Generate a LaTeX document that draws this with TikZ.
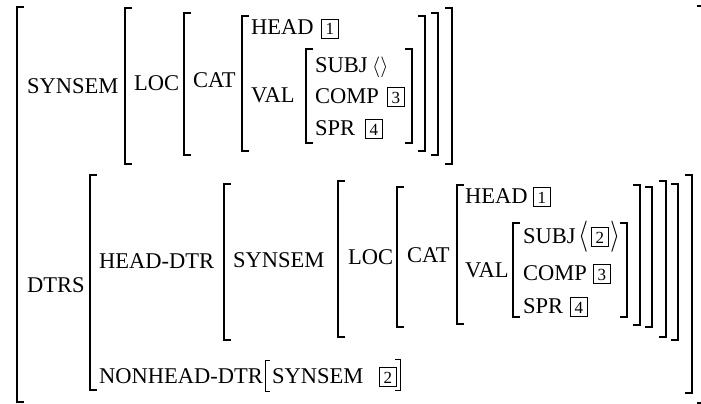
\documentclass[tikz,border=0pt]{standalone}
\usepackage{fontspec}
\setmainfont{Liberation Serif}
\newcommand\avmL[4][7]{\draw[br] (#2+#1,#3) -- (#2,#3) -- (#2,#4) -- (#2+#1,#4);}
\newcommand\avmR[4][7]{\draw[br] (#2-#1,#3) -- (#2,#3) -- (#2,#4) -- (#2-#1,#4);}
\tikzset{
 lab/.style={inner sep=0pt, anchor=base west, font=\fontsize{22.5}{27}\selectfont},
 angl/.style={inner sep=0pt, anchor=center, font=\fontsize{22.5}{27}\selectfont},
 tagbox/.style={draw, line width=0.7pt, inner sep=0pt, minimum width=17pt, minimum height=19pt,
   text height=12pt, text depth=0pt, anchor=base west, font=\fontsize{17}{20}\selectfont},
 br/.style={line width=1.6pt, line join=miter},
 sbr/.style={line width=1pt, line join=miter},
}
\begin{document}
\begin{tikzpicture}[x=1pt, y=-1pt]
\useasboundingbox (0,0) rectangle (701,404);
% ---------- upper part ----------
\node[lab] (syn1) at (27,93) {SYNSEM};
\node[lab] (loc1) at (134,90) {LOC};
\node[lab] (cat1) at (193,88) {CAT};
\node[lab] (head1) at (251,35) {HEAD};
\node[tagbox] (t1a) at (321,35) {1};
\node[lab] (val1) at (251,102) {VAL};
\node[lab] (subj1) at (315,72) {SUBJ};
\node[lab] (ang1) at (372,72) {$\langle\rangle$};
\node[lab] (comp1) at (315,103) {COMP};
\node[tagbox] (t3a) at (387,103) {3};
\node[lab] (spr1) at (315,135) {SPR};
\node[tagbox] (t4a) at (365,135) {4};
\avmL{17}{7}{402}
\avmR{704}{6}{403}
\avmL{125}{8}{164}   \avmR{452}{8}{164}
\avmL{184}{13}{155}  \avmR{438}{13}{155}
\avmL{242}{16}{151}  \avmR{425}{16}{151}
\avmL{306}{49}{143}  \avmR{412}{49}{143}
% ---------- lower part ----------
\node[lab] (dtrs) at (27,292) {DTRS};
\node[lab] (hdtr) at (99,268) {HEAD-DTR};
\node[lab] (syn2) at (233,267) {SYNSEM};
\node[lab] (loc2) at (348,264) {LOC};
\node[lab] (cat2) at (407,262) {CAT};
\node[lab] (head2) at (465,203) {HEAD};
\node[tagbox] (t1b) at (533,203) {1};
\node[lab] (val2) at (465,277) {VAL};
\node[lab] (subj2) at (523,243) {SUBJ};
\node[angl] (la2) at (584,237) {\scalebox{1.25}[1.5]{$\langle$}};
\node[tagbox] (t2a) at (591,243) {2};
\node[angl] (ra2) at (616,237) {\scalebox{1.25}[1.5]{$\rangle$}};
\node[lab] (comp2) at (523,280) {COMP};
\node[tagbox] (t3b) at (593,280) {3};
\node[lab] (spr2) at (523,313) {SPR};
\node[tagbox] (t4b) at (570,313) {4};
\node[lab] (nhd) at (99,383) {NONHEAD-DTR};
\node[lab] (syn3) at (272,383) {SYNSEM};
\node[tagbox] (t2b) at (379,383) {2};
\avmL{90}{175}{390}   \avmR{692}{175}{393}
\avmL{224}{184}{340}  \avmR{678}{184}{340}
\avmL{338}{181}{337}  \avmR{666}{181}{337}
\avmL{397}{187}{327}  \avmR{652}{187}{327}
\avmL{457}{185}{324}  \avmR{640}{185}{325}
\avmL{513}{223}{317}  \avmR{627}{223}{317}
\draw[sbr] (270,360) -- (265,360) -- (265,391) -- (270,391);
\draw[sbr] (395,359) -- (400,359) -- (400,390) -- (395,390);
\end{tikzpicture}
\end{document}
